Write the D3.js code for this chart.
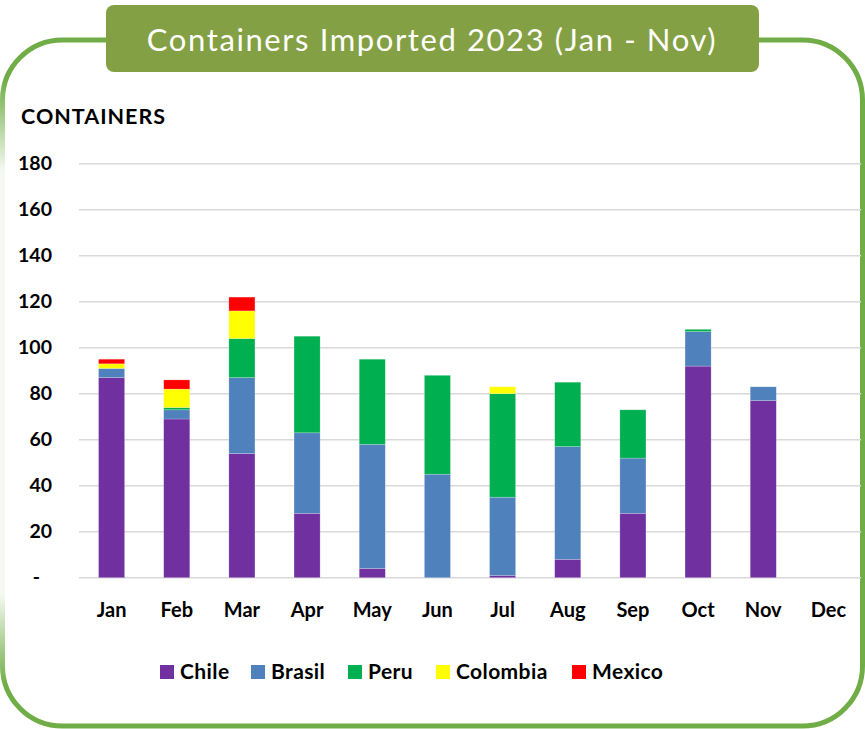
<!DOCTYPE html>
<html>
<head>
<meta charset="utf-8">
<script src="https://cdn.jsdelivr.net/npm/d3@7"></script>
<style>
  html, body { margin: 0; padding: 0; background: #ffffff; }
  svg { display: block; }
  text { font-family: Lato, "Open Sans", sans-serif; }
</style>
</head>
<body>
<svg id="chart" width="865" height="729"></svg>
<script>
// ---- data ----
const months = ["Jan","Feb","Mar","Apr","May","Jun","Jul","Aug","Sep","Oct","Nov","Dec"];
const seriesNames = ["Chile","Brasil","Peru","Colombia","Mexico"];
const chile    = [87, 69, 54, 28,  4,  0,  1,  8, 28, 92, 77, 0];
const brasil   = [ 4,  4, 33, 35, 54, 45, 34, 49, 24, 15,  6, 0];
const peru     = [ 0,  1, 17, 42, 37, 43, 45, 28, 21,  1,  0, 0];
const colombia = [ 2,  8, 12,  0,  0,  0,  3,  0,  0,  0,  0, 0];
const mexico   = [ 2,  4,  6,  0,  0,  0,  0,  0,  0,  0,  0, 0];
const yTicks = [0, 20, 40, 60, 80, 100, 120, 140, 160, 180];
const yTickLabels = ["-", "20", "40", "60", "80", "100", "120", "140", "160", "180"];
const titleText = "Containers Imported 2023 (Jan - Nov)";
const yAxisTitle = "CONTAINERS";

const colors = {Chile:"#7030a0", Brasil:"#4f81bd", Peru:"#00b050", Colombia:"#ffff00", Mexico:"#ff0000"};
const valuesBySeries = {Chile:chile, Brasil:brasil, Peru:peru, Colombia:colombia, Mexico:mexico};

const table = months.map((m, i) => {
  const row = {month: m};
  seriesNames.forEach(s => row[s] = valuesBySeries[s][i]);
  return row;
});

const svg = d3.select("#chart");

// ---- frame ----
svg.append("rect")
  .attr("x", 2.5).attr("y", 40).attr("width", 860).attr("height", 686)
  .attr("rx", 60).attr("ry", 60)
  .attr("fill", "none").attr("stroke", "#70ad47").attr("stroke-width", 5);

const defs = svg.append("defs");
const fade = defs.append("linearGradient").attr("id", "fade").attr("x1", 0).attr("y1", 0).attr("x2", 0).attr("y2", 1);
fade.append("stop").attr("offset", "0").attr("stop-color", "#fff").attr("stop-opacity", 0);
fade.append("stop").attr("offset", "0.15").attr("stop-color", "#fff").attr("stop-opacity", 0.93);
fade.append("stop").attr("offset", "0.85").attr("stop-color", "#fff").attr("stop-opacity", 0.93);
fade.append("stop").attr("offset", "1").attr("stop-color", "#fff").attr("stop-opacity", 0);
svg.append("rect").attr("x", 0).attr("y", 80).attr("width", 6).attr("height", 605).attr("fill", "url(#fade)");

// ---- title ----
svg.append("rect")
  .attr("x", 106).attr("y", 5).attr("width", 653).attr("height", 67)
  .attr("rx", 8).attr("ry", 8).attr("fill", "#84a044");
svg.append("text")
  .attr("x", 432).attr("y", 51)
  .attr("text-anchor", "middle")
  .attr("fill", "#ffffff")
  .attr("font-size", 31)
  .attr("letter-spacing", 1.6)
  .text(titleText);

// ---- scales ----
const plot = {left: 79, right: 861, top: 163.7, bottom: 577.7};
const x = d3.scaleBand().domain(months).range([plot.left, plot.right]).paddingInner(0.6).paddingOuter(0.3);
const y = d3.scaleLinear().domain([0, 180]).range([plot.bottom, plot.top]);

// gridlines
svg.append("g")
  .selectAll("line").data(yTicks).join("line")
  .attr("x1", plot.left).attr("x2", plot.right)
  .attr("y1", d => y(d)).attr("y2", d => y(d))
  .attr("stroke", "#d9d9d9").attr("stroke-width", 1.5);

// y axis labels
const yAxis = d3.axisLeft(y).tickValues(yTicks)
  .tickFormat((d, i) => yTickLabels[i]).tickSize(0).tickPadding(0);
const gy = svg.append("g").attr("transform", "translate(52,0)").call(yAxis);
gy.select(".domain").remove();
gy.selectAll("text")
  .attr("font-family", "Lato, sans-serif")
  .attr("font-size", 19.5).attr("font-weight", "bold").attr("fill", "#000")
  .attr("dx", d => d === 0 ? -12 : 0);

svg.append("text")
  .attr("x", 21).attr("y", 124)
  .attr("font-size", 21.5).attr("font-weight", "bold").attr("fill", "#000")
  .attr("letter-spacing", 1)
  .text(yAxisTitle);

// bars
const stack = d3.stack().keys(seriesNames);
const stacked = stack(table);
svg.append("g")
  .selectAll("g").data(stacked).join("g")
  .attr("fill", d => colors[d.key])
  .selectAll("rect").data(d => d).join("rect")
  .attr("x", d => x(d.data.month))
  .attr("width", x.bandwidth())
  .attr("y", d => y(d[1]))
  .attr("height", d => y(d[0]) - y(d[1]))
  .attr("stroke", "#ffffff").attr("stroke-opacity", 0.35).attr("stroke-width", 0.6);

// x axis labels
const xAxis = d3.axisBottom(x).tickSize(0).tickPadding(0);
const gx = svg.append("g").attr("transform", `translate(0,${plot.bottom + 39})`).call(xAxis);
gx.select(".domain").remove();
gx.selectAll("text")
  .attr("font-family", "Lato, sans-serif")
  .attr("font-size", 20).attr("font-weight", "bold").attr("fill", "#000")
  .attr("dy", 0);

// legend
const legendX = [160, 251, 348, 436, 572];
const legend = svg.append("g");
seriesNames.forEach((s, i) => {
  const g = legend.append("g").attr("transform", `translate(${legendX[i]},665)`);
  g.append("rect").attr("width", 14).attr("height", 14).attr("fill", colors[s]);
  g.append("text").attr("x", 20).attr("y", 13.5)
    .attr("font-size", 21).attr("font-weight", "bold").attr("fill", "#000")
    .attr("letter-spacing", 0.4)
    .text(s);
});
</script>
</body>
</html>
